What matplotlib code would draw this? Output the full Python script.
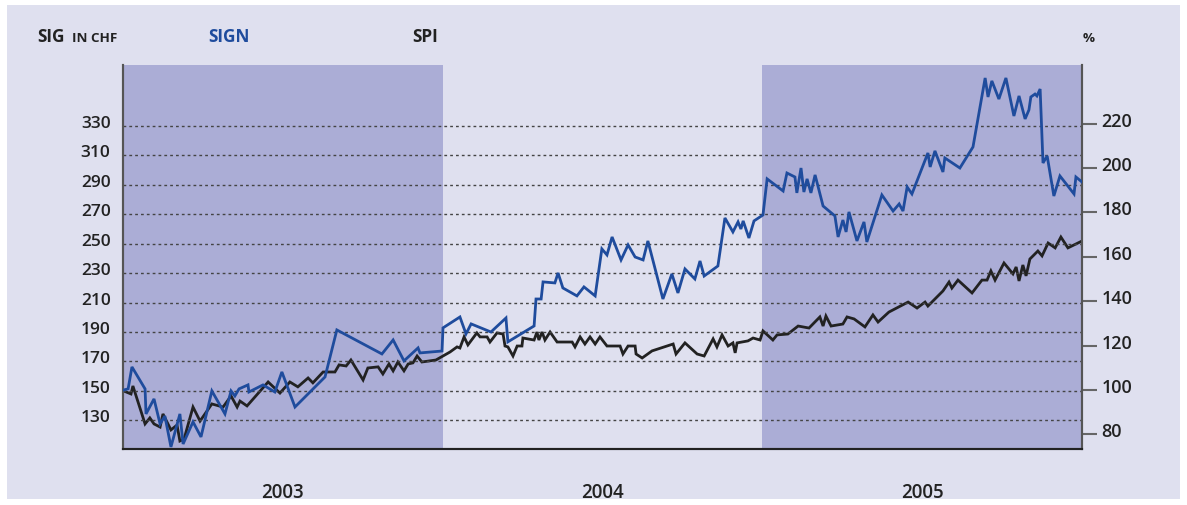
import matplotlib
matplotlib.use("Agg")
import matplotlib.pyplot as plt
import matplotlib.transforms as mtransforms
from matplotlib.patches import Rectangle

# SIGN share price in CHF (left axis), decimal years
sign_t = [2003.003, 2003.016, 2003.028, 2003.069, 2003.072, 2003.097, 2003.116, 2003.131,
          2003.150, 2003.178, 2003.188, 2003.219, 2003.244, 2003.278, 2003.319, 2003.338,
          2003.350, 2003.363, 2003.391, 2003.394, 2003.438, 2003.475, 2003.497, 2003.538,
          2003.632, 2003.669, 2003.810, 2003.845, 2003.879, 2003.923, 2003.929, 2003.998,
          2004.001, 2004.054, 2004.073, 2004.089, 2004.151, 2004.198, 2004.204, 2004.286,
          2004.292, 2004.308, 2004.314, 2004.351, 2004.361, 2004.376, 2004.420, 2004.442,
          2004.477, 2004.498, 2004.514, 2004.530, 2004.558, 2004.580, 2004.602, 2004.627,
          2004.642, 2004.689, 2004.717, 2004.736, 2004.758, 2004.789, 2004.805, 2004.818,
          2004.861, 2004.883, 2004.908, 2004.924, 2004.933, 2004.940, 2004.958, 2004.974,
          2005.002, 2005.015, 2005.065, 2005.077, 2005.102, 2005.108, 2005.121, 2005.130,
          2005.140, 2005.152, 2005.165, 2005.190, 2005.227, 2005.237, 2005.252, 2005.262,
          2005.271, 2005.296, 2005.318, 2005.327, 2005.374, 2005.409, 2005.428, 2005.440,
          2005.453, 2005.468, 2005.518, 2005.525, 2005.540, 2005.565, 2005.571, 2005.618,
          2005.659, 2005.697, 2005.706, 2005.718, 2005.740, 2005.762, 2005.787, 2005.803,
          2005.822, 2005.834, 2005.840, 2005.853, 2005.859, 2005.869, 2005.878, 2005.891,
          2005.912, 2005.931, 2005.975, 2005.981, 2006.000]
sign_chf = [150.7, 151.4, 166.3, 151.4, 134.4, 144.6, 127.6, 133.0,
            112.0, 134.4, 114.0, 129.0, 118.8, 150.0, 134.4, 150.0,
            146.6, 151.4, 154.1, 149.3, 154.1, 149.3, 162.9, 139.1,
            159.5, 191.4, 175.1, 184.6, 170.4, 179.2, 175.8, 177.1,
            192.8, 200.2, 188.7, 195.5, 190.0, 199.5, 183.3, 194.1,
            212.4, 212.4, 224.0, 223.3, 230.1, 219.9, 214.5, 220.6,
            214.5, 246.4, 242.3, 254.5, 238.9, 249.1, 240.9, 238.9,
            251.8, 212.4, 229.4, 216.5, 232.8, 226.0, 238.2, 228.0,
            234.8, 267.4, 257.9, 264.7, 259.9, 265.4, 253.8, 265.4,
            269.4, 293.9, 285.7, 297.9, 295.2, 284.4, 301.3, 285.0,
            293.9, 284.4, 296.6, 275.5, 268.8, 254.5, 266.0, 257.9,
            271.5, 251.8, 264.7, 251.1, 283.0, 272.1, 276.9, 272.1,
            288.4, 283.7, 311.5, 302.0, 312.9, 298.6, 308.1, 301.3,
            315.6, 362.4, 349.5, 360.4, 348.1, 362.4, 336.6, 350.2,
            334.6, 340.7, 349.5, 351.5, 350.2, 354.9, 304.7, 309.5,
            282.3, 295.9, 283.7, 295.2, 291.8]

# SPI index in % (right axis)
spi_t = [2003.003, 2003.025, 2003.031, 2003.069, 2003.084, 2003.097, 2003.116, 2003.125,
         2003.150, 2003.169, 2003.178, 2003.191, 2003.219, 2003.241, 2003.278, 2003.313,
         2003.338, 2003.357, 2003.366, 2003.388, 2003.454, 2003.491, 2003.522, 2003.547,
         2003.579, 2003.594, 2003.626, 2003.663, 2003.676, 2003.698, 2003.713, 2003.751,
         2003.766, 2003.798, 2003.813, 2003.832, 2003.845, 2003.860, 2003.879, 2003.892,
         2003.907, 2003.920, 2003.935, 2003.979, 2004.023, 2004.045, 2004.054, 2004.067,
         2004.079, 2004.107, 2004.117, 2004.139, 2004.148, 2004.170, 2004.189, 2004.195,
         2004.204, 2004.220, 2004.233, 2004.248, 2004.251, 2004.286, 2004.295, 2004.301,
         2004.311, 2004.320, 2004.336, 2004.358, 2004.405, 2004.414, 2004.430, 2004.445,
         2004.461, 2004.477, 2004.492, 2004.514, 2004.555, 2004.564, 2004.580, 2004.602,
         2004.605, 2004.624, 2004.655, 2004.721, 2004.730, 2004.758, 2004.796, 2004.818,
         2004.846, 2004.858, 2004.874, 2004.893, 2004.908, 2004.915, 2004.921, 2004.955,
         2004.971, 2004.993, 2005.002, 2005.033, 2005.046, 2005.080, 2005.112, 2005.146,
         2005.180, 2005.190, 2005.199, 2005.215, 2005.252, 2005.265, 2005.287, 2005.321,
         2005.346, 2005.362, 2005.396, 2005.456, 2005.484, 2005.509, 2005.518, 2005.565,
         2005.584, 2005.593, 2005.612, 2005.656, 2005.687, 2005.703, 2005.715, 2005.728,
         2005.756, 2005.784, 2005.794, 2005.803, 2005.815, 2005.825, 2005.837, 2005.862,
         2005.875, 2005.894, 2005.916, 2005.934, 2005.956, 2006.000]
spi_pct = [99.5, 98.2, 101.8, 84.7, 87.4, 84.7, 83.3, 89.2,
           82.0, 84.2, 77.0, 77.9, 92.3, 86.0, 93.7, 92.3,
           97.3, 92.3, 95.0, 92.8, 103.6, 98.6, 103.6, 101.4,
           105.4, 103.2, 108.1, 108.1, 111.3, 110.8, 113.5, 104.5,
           109.9, 110.4, 107.2, 111.7, 108.6, 112.6, 108.6, 111.7,
           112.2, 115.3, 112.6, 113.5, 117.1, 119.4, 118.9, 123.9,
           120.3, 125.7, 123.9, 123.9, 121.6, 125.7, 125.2, 119.8,
           119.4, 115.3, 119.8, 119.8, 123.4, 122.5, 126.1, 122.5,
           126.1, 122.5, 126.1, 121.6, 121.6, 119.4, 123.9, 120.7,
           123.9, 120.7, 123.9, 119.8, 119.8, 116.2, 119.8, 119.8,
           116.2, 114.4, 117.6, 120.7, 116.2, 121.2, 116.2, 115.3,
           123.0, 119.4, 124.8, 119.8, 121.2, 116.7, 121.2, 122.1,
           123.4, 122.5, 126.6, 122.5, 124.8, 125.2, 128.8, 127.9,
           132.9, 128.8, 133.3, 128.8, 129.7, 132.9, 132.0, 128.4,
           133.8, 130.6, 135.1, 139.6, 136.9, 139.6, 137.8, 144.6,
           148.6, 145.9, 149.5, 143.7, 149.5, 149.5, 153.6, 149.5,
           157.2, 152.3, 155.4, 149.1, 156.3, 151.4, 159.0, 162.6,
           160.4, 166.2, 164.0, 168.9, 164.0, 167.1]

years = [2003, 2004, 2005]
shaded_years = [2003, 2005]
chf_ticks = [130, 150, 170, 190, 210, 230, 250, 270, 290, 310, 330]
pct_ticks = [80, 100, 120, 140, 160, 180, 200, 220]

BG = "#dfe0ef"
SHADE = "#abadd6"
BLUE = "#1f4c9d"
BLACK = "#222222"
FONT = "Open Sans"

W, H = 1187, 506
fig = plt.figure(figsize=(W / 100, H / 100), dpi=100, facecolor="white")
fig.patches.append(Rectangle((7 / W, 6 / H), (1180 - 7) / W, (500 - 6) / H,
                             transform=fig.transFigure, facecolor=BG,
                             edgecolor="none", zorder=-10))

left, right, top, bottom = 123, 1082, 66, 450
rect = [left / W, 1 - bottom / H, (right - left) / W, (bottom - top) / H]

# primary axis: SPI (%) on the right; twin: SIGN (CHF) on the left
ax = fig.add_axes(rect)
ax2 = ax.twinx()
ax.set_facecolor(BG)
ax2.patch.set_visible(False)

ax.set_xlim(2003, 2006)
ax.set_ylim(73.4, 246.4)
for y in shaded_years:
    ax.axvspan(y, y + 1, color=SHADE, lw=0, zorder=0)
ax.plot(spi_t, spi_pct, color=BLACK, lw=2.0, zorder=3, solid_joinstyle="miter")

ax2.set_ylim(110.6, 371.2)
for v in chf_ticks:
    ax2.axhline(v, color="#444444", lw=1.0, ls=(0, (2, 2.2)), zorder=1)
ax2.plot(sign_t, sign_chf, color=BLUE, lw=2.0, zorder=3, solid_joinstyle="miter")

ax.set_yticks(pct_ticks)
ax.tick_params(axis="y", left=False, labelleft=False, right=True, labelright=True,
               length=11, width=1.5, color="#666666", pad=3, labelsize=13,
               labelcolor="#222222", direction="out")
ax.set_xticks([y + 0.5 for y in years])
ax.set_xticklabels([str(y) for y in years])
ax.tick_params(axis="x", length=0, pad=24, labelsize=13.5, labelcolor="#222222")

ax2.set_yticks(chf_ticks)
ax2.tick_params(axis="y", left=False, labelleft=True, right=False, labelright=False,
                length=0, pad=9, labelsize=12.5, labelcolor="#222222")

for a in (ax, ax2):
    a.spines["top"].set_visible(False)
    a.spines["left"].set_color("#555555")
    a.spines["left"].set_linewidth(1.5)
    a.spines["right"].set_color("#555555")
    a.spines["right"].set_linewidth(1.5)
    a.spines["bottom"].set_color("#222222")
    a.spines["bottom"].set_linewidth(1.5)

# tick labels sit slightly above their grid lines
up = mtransforms.ScaledTranslation(0, 5 / 100, fig.dpi_scale_trans)
ylabels = ax.get_yticklabels() + ax2.get_yticklabels()
for lab in ylabels:
    lab.set_transform(lab.get_transform() + up)
for lab in ax.get_xticklabels() + ylabels:
    lab.set_fontfamily(FONT)
    lab.set_fontweight("semibold")


def ftext(x, y, s, size, color="#222222"):
    fig.text(x / W, 1 - y / H, s, fontsize=size, color=color, fontfamily=FONT,
             fontweight="bold", ha="left", va="baseline")


ftext(37, 42, "SIG", 12.4)
ftext(72, 42, "IN CHF", 9.6)
ftext(208, 42, "SIGN", 12.4, BLUE)
ftext(412, 42, "SPI", 12.4)
ftext(1083, 42, "%", 9.6)

fig.savefig("out.png", dpi=100, facecolor="white")
